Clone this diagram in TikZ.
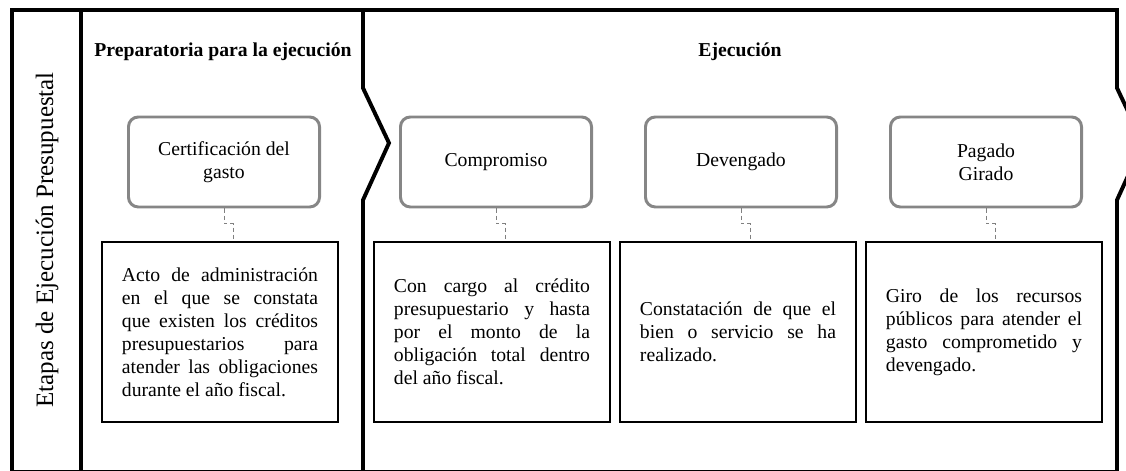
\documentclass[tikz,border=0pt]{standalone}
\usepackage{fontspec}
\setmainfont{Liberation Serif}
\usepackage{tikz}
\usetikzlibrary{calc}
\tolerance=10000
\hbadness=10000
\hyphenpenalty=10000

\begin{document}
\begin{tikzpicture}[x=0.025cm, y=-0.025cm,
        frame/.style = {line width=2.8pt},
        stage/.style = {draw=gray!95, line width=2.1pt,
            rounded corners=7pt,
            minimum width=4.775cm, minimum height=2.25cm,
            align=center,
            font=\fontsize{14}{16.4}\selectfont},
        detail/.style = {draw, line width=1.1pt,
            minimum width=5.9cm, minimum height=4.5cm,
            text width=4.9cm, align=justify,
            font=\fontsize{14}{16.4}\selectfont},
        title/.style = {font=\fontsize{14}{16.4}\selectfont\bfseries},
        link/.style = {draw=gray, dash pattern=on 3pt off 2pt, line width=0.6pt}]

        \useasboundingbox (0,0) rectangle (1126,471);

        % Outer frame
        \draw[frame] (1117,472) -- (1117,200) -- (1143,143) -- (1117,88)
            -- (1117,10) -- (12,10) -- (12,472) -- (1117,472);

        % Column dividers
        \draw[frame] (81,10) -- (81,472);
        \draw[frame] (363,10) -- (363,88) -- (389,143) -- (363,200) -- (363,472);

        % Vertical label
        \node[rotate=90, font=\fontsize{17.8}{20}\selectfont] (etapas) at (47,240)
            {Etapas de Ejecución Presupuestal};

        % Phase titles
        \node[title] (prep) at (223,52) {Preparatoria para la ejecución};
        \node[title] (ejec) at (740,52) {Ejecución};

        % Stages
        \node[stage] (cert) at (224,162) {Certificación del\\gasto};
        \node[stage] (comp) at (496,162) {Compromiso};
        \node[stage] (deve) at (741,162) {Devengado};
        \node[stage] (paga) at (986,162) {Pagado\\Girado};

        % Descriptions
        \node[detail] (acto) at (220,332) {Acto de administración\linebreak
            en el que se constata\linebreak
            que existen los créditos\linebreak
            presupuestarios para\linebreak
            atender las obligaciones\linebreak
            durante el año fiscal.};
        \node[detail] (cargo) at (492,332) {Con cargo al crédito\linebreak
            presupuestario y hasta\linebreak
            por el monto de la\linebreak
            obligación total dentro\linebreak
            del año fiscal.};
        \node[detail] (const) at (738,332) {Constatación de que el\linebreak
            bien o servicio se ha\linebreak
            realizado.};
        \node[detail] (giro) at (984,332) {Giro de los recursos\linebreak
            públicos para atender el\linebreak
            gasto comprometido y\linebreak
            devengado.};

        % Links
        \draw[link] (cert.south) -- ++(0,15) -| ($(cert.south |- acto.north)+(9,0)$);
        \draw[link] (comp.south) -- ++(0,15) -| ($(comp.south |- cargo.north)+(9,0)$);
        \draw[link] (deve.south) -- ++(0,15) -| ($(deve.south |- const.north)+(9,0)$);
        \draw[link] (paga.south) -- ++(0,15) -| ($(paga.south |- giro.north)+(9,0)$);

    \end{tikzpicture}
\end{document}
